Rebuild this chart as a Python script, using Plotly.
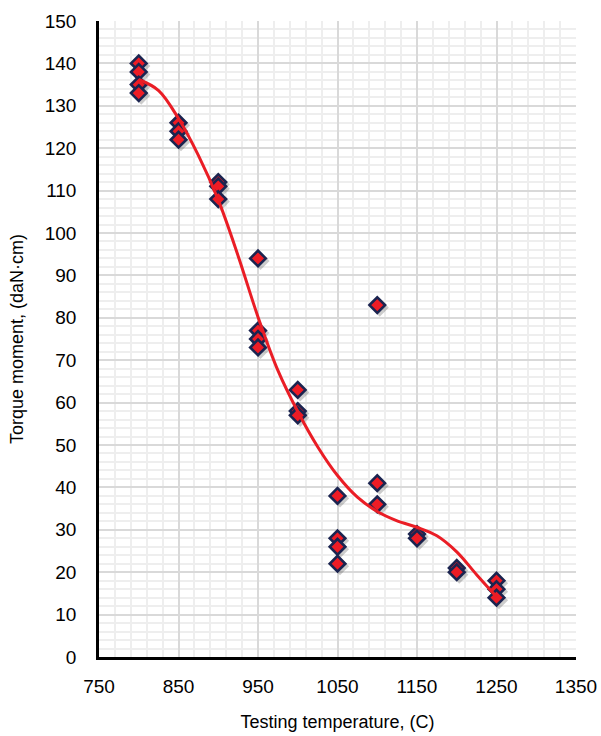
import plotly.graph_objects as go

# ---- data ----
temperature = [800, 800, 800, 800,
               850, 850, 850,
               900, 900, 900,
               950, 950, 950, 950,
               1000, 1000, 1000,
               1050, 1050, 1050, 1050,
               1100, 1100, 1100,
               1150, 1150,
               1200, 1200,
               1250, 1250, 1250]
torque = [140, 138, 135, 133,
          126, 124, 122,
          112, 111, 108,
          94, 77, 75, 73,
          63, 58, 57,
          38, 28, 26, 22,
          83, 41, 36,
          29, 28,
          21, 20,
          18, 16, 14]

# trendline
trend_x = [800, 825, 850, 875, 900, 925, 950, 975, 1000, 1025,
           1050, 1075, 1100, 1125, 1150, 1175, 1200, 1225, 1250]
trend_y = [136.2, 133.6, 127.0, 118.3, 107.8, 94.6, 80.2, 67.6, 57.9, 49.6,
           42.8, 37.7, 34.3, 32.1, 30.6, 28.6, 24.8, 19.4, 14.2]

x_ticks = [750, 850, 950, 1050, 1150, 1250, 1350]
y_ticks = list(range(0, 151, 10))

# plot geometry helpers for a subtle drop shadow
L, R, T, B = 99, 25, 21, 79
W, H = 601, 736
px_x = (W - L - R) / 600.0
px_y = (H - T - B) / 150.0
sx = [t + 2.5 / px_x for t in temperature]
sy = [v - 2.5 / px_y for v in torque]

fig = go.Figure()
fig.add_trace(go.Scatter(
    x=sx, y=sy, mode="markers", hoverinfo="skip",
    marker=dict(symbol="diamond", size=14, color="rgba(0,0,0,0.2)",
                line=dict(width=0)),
    showlegend=False))
fig.add_trace(go.Scatter(
    x=temperature, y=torque, mode="markers",
    marker=dict(symbol="diamond", size=12, color="#ee1c25",
                line=dict(color="#1b2450", width=2.6)),
    showlegend=False))
fig.add_trace(go.Scatter(
    x=trend_x, y=trend_y, mode="lines",
    line=dict(color="#ea1d25", width=3, shape="spline", smoothing=1),
    showlegend=False))

font = "Liberation Sans, Arial, sans-serif"
fig.update_layout(
    width=W, height=H,
    margin=dict(l=L, r=R, t=T, b=B),
    paper_bgcolor="white", plot_bgcolor="white",
    font=dict(family=font, color="#000000", size=19),
)
fig.update_xaxes(
    range=[750, 1350], tickvals=x_ticks, ticktext=[str(v) for v in x_ticks],
    showgrid=True, gridcolor="#d9d9d9", gridwidth=1.5,
    minor=dict(dtick=20, tick0=750, showgrid=True, gridcolor="#eeeeee", gridwidth=1.5),
    showline=True, linecolor="#000000", linewidth=3, mirror=False,
    zeroline=False, ticks="outside", ticklen=0, ticklabelstandoff=10,
    automargin=False,
    tickfont=dict(size=19, family=font),
    title=dict(text="Testing temperature, (C)", font=dict(size=18, family=font), standoff=20),
)
fig.update_yaxes(
    range=[0, 150], tickvals=y_ticks, ticktext=[str(v) for v in y_ticks],
    showgrid=True, gridcolor="#d9d9d9", gridwidth=1.5,
    minor=dict(dtick=2, tick0=0, showgrid=True, gridcolor="#eeeeee", gridwidth=1.5),
    showline=True, linecolor="#000000", linewidth=2.5, mirror=False,
    zeroline=False, ticks="outside", ticklen=0, ticklabelstandoff=16,
    automargin=False,
    tickfont=dict(size=19, family=font),
    title=dict(text="Torque moment, (daN·cm)", font=dict(size=18, family=font), standoff=17),
)

fig.write_html("out.html", config={"displayModeBar": False},
               post_script="document.body.style.margin='0';document.body.style.overflow='hidden';")
